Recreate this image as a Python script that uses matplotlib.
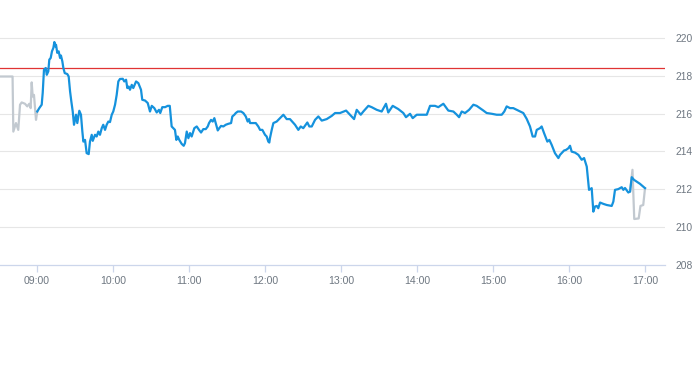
import matplotlib
matplotlib.use('Agg')
import matplotlib.pyplot as plt
import numpy as np

# minutes after 09:00 and price, regular session (blue)
session_min = [0.2, 1.8, 3.7, 4.5, 5.5, 6.9, 7.7, 8.9, 9.7, 10.8, 11.8, 12.9, 13.7, 14.4, 15.0,
               16.0, 17.1, 18.2, 18.9, 20.0, 20.8, 21.9, 23.9, 25.0, 26.1, 27.1, 28.2, 29.2, 30.0,
               30.8, 31.8, 33.4, 34.7, 35.8, 36.6, 37.9, 39.2, 40.8, 41.8, 43.2, 44.0, 45.8, 47.1,
               48.4, 49.7, 51.1, 52.3, 53.7, 55.0, 56.3, 57.6, 59.0, 60.2, 61.6, 62.9, 64.2, 65.5,
               67.7, 68.9, 70.3, 71.3, 72.4, 73.4, 74.8, 76.0, 78.2, 80.0, 82.1, 83.1, 85.3, 87.4,
               89.2, 90.6, 92.6, 94.5, 96.3, 97.3, 98.9, 101.1, 103.2, 104.8, 106.3, 107.6, 108.9,
               110.0, 111.1, 112.3, 114.2, 115.8, 116.8, 118.2, 119.5, 120.8, 122.1, 124.2, 126.1,
               127.9, 129.5, 131.3, 133.2, 134.8, 135.8, 137.4, 138.7, 140.0, 141.1, 142.7, 143.9,
               145.3, 147.1, 149.0, 151.0, 153.2, 154.2, 155.8, 156.9, 158.5, 161.1, 162.9, 164.8,
               166.3, 167.4, 168.2, 170.8, 172.7, 174.7, 176.1, 177.9, 180.0, 181.3, 182.6, 183.4,
               183.9, 185.3, 186.6, 189.2, 194.5, 197.1, 199.7, 203.7, 206.3, 208.2, 210.2, 213.4,
               215.0, 216.9, 219.5, 222.1, 224.8, 228.7, 232.7, 235.3, 239.2, 244.0, 247.1, 250.3,
               252.4, 255.6, 257.6, 261.6, 264.2, 268.2, 272.1, 275.5, 277.3, 280.8, 285.2, 289.2,
               291.3, 294.5, 296.6, 299.8, 307.7, 310.3, 314.2, 316.8, 320.8, 324.7, 328.7, 331.4,
               333.2, 335.3, 337.9, 341.1, 344.5, 347.1, 349.7, 352.4, 355.0, 359.0, 362.9, 366.9,
               368.9, 370.8, 373.4, 376.0, 380.0, 383.9, 386.6, 389.2, 391.3, 393.2, 394.5, 397.1,
               398.4, 400.3, 402.9, 404.5, 406.3, 408.9, 411.6, 412.9, 416.1, 417.6, 419.5, 420.8,
               422.1, 424.7, 427.4, 430.0, 431.9, 434.0, 435.8, 437.9, 439.2, 440.5, 441.9, 443.1,
               444.5, 447.1, 449.8, 453.7, 455.0, 456.3, 458.9, 461.6, 462.9, 464.2, 466.8, 468.2,
               469.5, 471.3, 476.0, 480.0]
session_px = [216.11, 216.29, 216.47, 217.10, 218.32, 218.41, 218.05, 218.23, 218.85, 218.94,
              219.29, 219.47, 219.78, 219.55, 219.64, 219.21, 219.29, 218.94, 219.07, 218.76,
              218.41, 218.14, 218.09, 217.96, 217.17, 216.64, 216.11, 215.41, 215.67, 215.94,
              215.50, 216.15, 215.94, 215.05, 214.52, 214.61, 213.91, 213.86, 214.52, 214.88,
              214.56, 214.88, 214.79, 215.05, 214.88, 215.23, 215.41, 215.14, 215.41, 215.58,
              215.55, 215.94, 216.11, 216.47, 216.99, 217.70, 217.83, 217.84, 217.70, 217.79,
              217.35, 217.43, 217.26, 217.52, 217.35, 217.70, 217.61, 217.26, 216.73, 216.69,
              216.56, 216.11, 216.41, 216.29, 216.06, 216.20, 216.03, 216.34, 216.34, 216.41,
              216.41, 215.32, 215.23, 215.14, 214.61, 214.79, 214.61, 214.40, 214.30, 214.44,
              215.05, 214.70, 214.97, 214.79, 215.23, 215.32, 215.14, 215.00, 215.18, 215.18,
              215.32, 215.50, 215.67, 215.58, 215.76, 215.50, 215.11, 215.23, 215.35, 215.32,
              215.41, 215.46, 215.50, 215.85, 215.94, 216.03, 216.11, 216.11, 216.03, 215.85,
              215.58, 215.71, 215.50, 215.50, 215.50, 215.32, 215.14, 215.14, 214.88, 214.79,
              214.52, 214.47, 214.70, 215.14, 215.50, 215.58, 215.94, 215.71, 215.71, 215.41,
              215.14, 215.32, 215.23, 215.53, 215.32, 215.32, 215.67, 215.85, 215.63, 215.71,
              215.88, 216.03, 216.03, 216.16, 215.94, 215.71, 216.20, 215.94, 216.11, 216.41,
              216.34, 216.20, 216.11, 216.52, 216.06, 216.41, 216.24, 216.03, 215.81, 215.99,
              215.76, 215.94, 215.94, 216.41, 216.41, 216.34, 216.52, 216.16, 216.11, 215.94,
              215.81, 216.11, 216.03, 216.20, 216.47, 216.41, 216.29, 216.16, 216.03, 215.99,
              215.94, 215.94, 216.11, 216.38, 216.29, 216.29, 216.16, 216.03, 215.72, 215.32,
              214.79, 214.79, 215.14, 215.23, 215.32, 214.97, 214.52, 214.61, 214.35, 213.91,
              213.65, 213.82, 214.05, 214.08, 214.17, 214.30, 213.99, 213.94, 213.82, 213.56,
              213.65, 213.20, 211.97, 212.06, 210.82, 211.09, 211.12, 211.00, 211.30, 211.23,
              211.17, 211.12, 211.35, 211.97, 212.01, 212.11, 211.97, 212.07, 211.83, 211.88,
              212.64, 212.50, 212.29, 212.06]

# extended hours (grey)
pre_min = [-29.2, -19.3, -18.7, -16.6, -14.8, -13.4, -12.1, -9.5, -7.7, -6.1, -5.0, -4.2,
           -3.4, -2.4, -0.8, 0.2]
pre_px = [217.96, 217.96, 215.05, 215.50, 215.14, 216.47, 216.59, 216.52, 216.38, 216.52,
          216.29, 217.65, 216.90, 216.99, 215.67, 216.11]
post_min = [468.2, 470.1, 471.5, 475.0, 476.4, 478.6, 480.0]
post_px = [211.88, 213.03, 210.43, 210.46, 211.12, 211.17, 212.06]

prev_close = 218.42
hour_ticks = [9, 10, 11, 12, 13, 14, 15, 16, 17]
price_ticks = [208, 210, 212, 214, 216, 218, 220]

plt.rcParams['font.family'] = ['Liberation Sans', 'DejaVu Sans']

fig = plt.figure(figsize=(6.93, 3.65), dpi=100)
ax = fig.add_axes([0.0, 0.274, 0.9596, 0.674])

to_h = lambda m: 9 + np.asarray(m) / 60.0

for p in price_ticks[1:]:
    ax.axhline(p, color='#e6e6e6', lw=0.8, zorder=0)
ax.axhline(prev_close, color='#e03434', lw=0.9, zorder=1)

ax.plot(to_h(pre_min), pre_px, color='#c2c9d0', lw=1.6, zorder=2)
ax.plot(to_h(post_min), post_px, color='#c2c9d0', lw=1.6, zorder=2)
ax.plot(to_h(session_min), session_px, color='#1592dd', lw=1.6, zorder=3)

ax.set_xlim(8.513, 17.263)
ax.set_ylim(208, 221)

for s in ['top', 'left', 'right']:
    ax.spines[s].set_visible(False)
ax.spines['bottom'].set_color('#ccd6eb')
ax.spines['bottom'].set_linewidth(0.9)

ax.set_xticks(hour_ticks)
ax.set_xticklabels(['%02d:00' % h for h in hour_ticks])
ax.tick_params(axis='x', colors='#ccd6eb', length=5, width=0.9, pad=3,
               labelcolor='#6e7781', labelsize=7.6)

ax.yaxis.tick_right()
ax.set_yticks(price_ticks)
ax.set_yticklabels([str(p) for p in price_ticks])
ax.tick_params(axis='y', length=0, pad=7.4, labelcolor='#6e7781', labelsize=7.4)

fig.savefig('out.png', dpi=100)
